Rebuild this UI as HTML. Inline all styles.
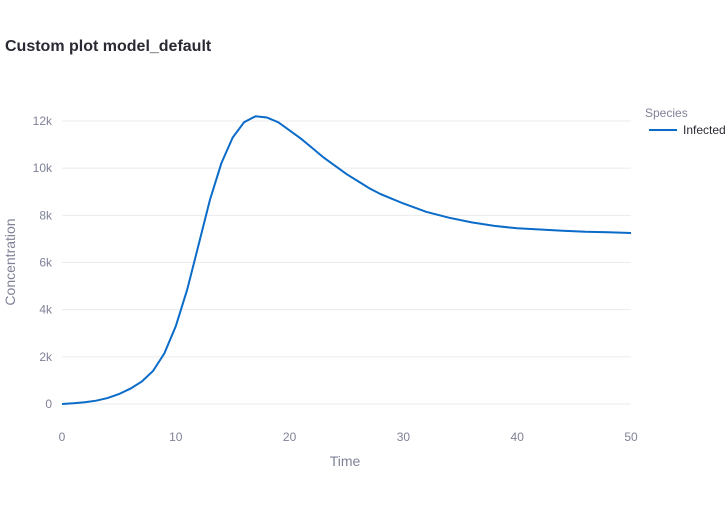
<!DOCTYPE html>
<html><head><meta charset="utf-8"><style>
body{margin:0;background:#fff;font-family:"Liberation Sans",Arial,sans-serif}
svg text{font-family:"Liberation Sans",Arial,sans-serif}
</style></head><body>
<svg id="chart" width="728" height="500">
<text x="5" y="51" font-size="16" font-weight="bold" fill="#2a2a35">Custom plot model_default</text>
<g id="grid"></g><g id="yticks"></g><g id="xticks"></g>
<path id="line" fill="none" stroke="#0a6bc8" stroke-width="2"/>
<text x="345" y="466" font-size="14" fill="#7f8297" text-anchor="middle">Time</text>
<text transform="translate(15,262) rotate(-90)" font-size="14" fill="#7f8297" text-anchor="middle">Concentration</text>
<g>
<text x="645" y="117" font-size="12" fill="#7f8297">Species</text>
<g>
<line x1="649" y1="130" x2="677" y2="130" stroke="#0a6bc8" stroke-width="2"/>
<text x="683" y="134" font-size="12" fill="#2a2a35">Infected</text></g></g>
</svg>
<script>
const times=[0,1,2,3,4,5,6,7,8,9,10,11,12,13,14,15,16,17,18,19,20,21,22,23,24,25,26,27,28,29,30,32,34,36,38,40,42,44,46,48,50];
const infected=[0,30,70,140,250,420,650,950,1400,2150,3300,4850,6750,8650,10200,11300,11950,12200,12150,11950,11600,11250,10850,10450,10100,9750,9450,9150,8900,8700,8500,8150,7900,7700,7550,7450,7400,7350,7300,7280,7250];
const yTicks=[0,2000,4000,6000,8000,10000,12000];
const yTickLabels=["0","2k","4k","6k","8k","10k","12k"];
const xTicks=[0,10,20,30,40,50];
const X=t=>62+t*(631-62)/50, Y=v=>404-v*(404-121)/12000;
const ns="http://www.w3.org/2000/svg";
const g=document.getElementById('grid'),yt=document.getElementById('yticks'),xt=document.getElementById('xticks');
yTicks.forEach((v,i)=>{
 const l=document.createElementNS(ns,'line');
 l.setAttribute('x1',62);l.setAttribute('x2',631);l.setAttribute('y1',Y(v));l.setAttribute('y2',Y(v));
 l.setAttribute('stroke','#ebebeb');l.setAttribute('stroke-width','1');
 
 
 g.appendChild(l);
 const t=document.createElementNS(ns,'text');
 t.setAttribute('x',52);t.setAttribute('y',Y(v)+4);t.setAttribute('text-anchor','end');
 t.setAttribute('font-size','12');t.setAttribute('fill','#7f8297');t.textContent=yTickLabels[i];
 
 
 yt.appendChild(t);
});
xTicks.forEach(v=>{
 const t=document.createElementNS(ns,'text');
 t.setAttribute('x',X(v));t.setAttribute('y',441);t.setAttribute('text-anchor','middle');
 t.setAttribute('font-size','12');t.setAttribute('fill','#7f8297');t.textContent=v;
 
 
 xt.appendChild(t);
});
document.getElementById('line').setAttribute('d',times.map((t,i)=>(i?'L':'M')+X(t).toFixed(1)+','+Y(infected[i]).toFixed(1)).join(''));
</script>
</body></html>
